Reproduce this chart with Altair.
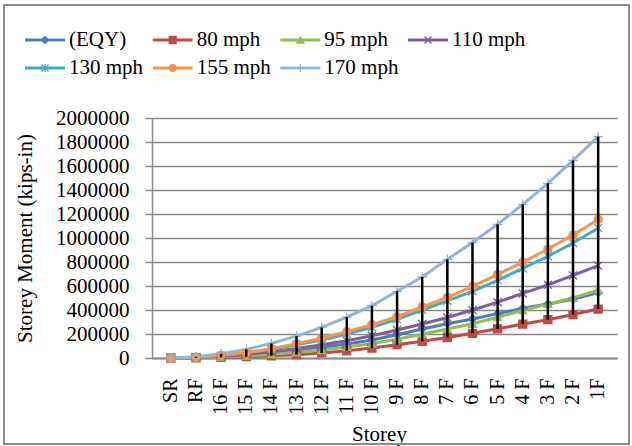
import altair as alt
import pandas as pd

storeys = ["SR", "RF", "16 F", "15 F", "14 F", "13 F", "12 F", "11 F", "10 F",
           "9 F", "8 F", "7 F", "6 F", "5 F", "4 F", "3 F", "2 F", "1F"]
series = ["(EQY)", "80 mph", "95 mph", "110 mph", "130 mph", "155 mph", "170 mph"]
colors = ["#4A7EBB", "#BE4B48", "#98B954", "#7D60A0", "#46AAC5", "#F79646", "#95B3D7"]
shapes = ["diamond", "square", "triangle-up",
          "M-1,-1L1,1M-1,1L1,-1",
          "M-1,-1L1,1M-1,1L1,-1M0,-1.2L0,1.2",
          "circle",
          "M-1.2,0L1.2,0M0,-1.2L0,1.2"]

eqy = [0, 3000, 10000, 22000, 40000, 65000, 90000, 117000, 150000, 194000,
       242000, 286000, 325000, 370000, 414000, 450000, 490000, 545000]
mph80 = [0, 2000, 5000, 11000, 18000, 28000, 42000, 60000, 83000, 111000,
         139000, 170000, 206000, 243000, 283000, 319000, 362000, 408000]
mph95 = [0, 2000, 8000, 17000, 30000, 47000, 66000, 92000, 120000, 156000,
         198000, 242000, 285000, 340000, 398000, 450000, 500000, 566000]
mph110 = [0, 4000, 14000, 30000, 52000, 80000, 111000, 143000, 185000, 234000,
          283000, 338000, 400000, 465000, 538000, 610000, 688000, 770000]
mph130 = [0, 5000, 20000, 42000, 72000, 110000, 150000, 200000, 255000, 322000,
          400000, 476000, 556000, 647000, 746000, 847000, 958000, 1083000]
mph155 = [0, 6000, 22000, 45000, 78000, 120000, 165000, 220000, 278000, 345000,
          425000, 506000, 597000, 697000, 799000, 908000, 1025000, 1155000]
mph170 = [0, 10000, 35000, 72000, 122000, 182000, 255000, 340000, 436000, 556000,
          675000, 822000, 962000, 1114000, 1280000, 1456000, 1647000, 1845000]

all_vals = [eqy, mph80, mph95, mph110, mph130, mph155, mph170]
rows = []
for s, vals in zip(series, all_vals):
    for st, v in zip(storeys, vals):
        rows.append({"storey": st, "series": s, "value": v})
df = pd.DataFrame(rows)

FONT = "Liberation Serif"

color = alt.Color("series:N", scale=alt.Scale(domain=series, range=colors), legend=None)
shape = alt.Shape("series:N", scale=alt.Scale(domain=series, range=shapes), legend=None)

x_axis = alt.Axis(title="Storey", labelAngle=270, ticks=False, labelPadding=20,
                  domainColor="#8a8a8a", domainWidth=2, grid=False,
                  labelFont=FONT, labelFontSize=20, labelColor="black",
                  titleFont=FONT, titleFontSize=21, titleFontWeight="normal",
                  titleColor="black", titleX=227, titleY=82, titleBaseline="alphabetic",
                  titleAlign="center")
xenc = alt.X("storey:N", sort=storeys, scale=alt.Scale(domain=storeys, padding=0.5), axis=x_axis)

y_scale = alt.Scale(domain=[0, 2000000], nice=False)
y_axis = alt.Axis(title="Storey Moment (kips-in)", values=list(range(0, 2000001, 200000)),
                  format="d", tickSize=7, tickColor="#8a8a8a", tickWidth=1.5,
                  domainColor="#8a8a8a", domainWidth=1.5, labelPadding=16,
                  gridColor="#8a8a8a", gridWidth=1.4,
                  labelFont=FONT, labelFontSize=21, labelColor="black",
                  titleFont=FONT, titleFontSize=21, titleFontWeight="normal",
                  titleColor="black", titleAngle=270, titleX=-127, titleY=120,
                  titleAlign="center", titleBaseline="middle")

base = alt.Chart(df)
lines = base.mark_line(strokeWidth=3).encode(
    x=xenc, y=alt.Y("value:Q", scale=y_scale, axis=y_axis), color=color, detail="series:N")
points = base.mark_point(filled=True, size=64, strokeWidth=1.3, opacity=1).encode(
    x=xenc, y=alt.Y("value:Q", scale=y_scale, axis=y_axis), color=color, shape=shape,
    stroke=alt.Stroke("series:N", scale=alt.Scale(domain=series, range=colors), legend=None))
hilo = base.mark_rule(color="black", strokeWidth=2.5).encode(
    x=xenc, y=alt.Y("min(value):Q", scale=y_scale, axis=y_axis), y2=alt.Y2("max(value)"))

main = alt.layer(lines, points, hilo)

# legend built from the series list
leg = pd.DataFrame({"series": series,
                    "col": [i % 4 for i in range(len(series))],
                    "row": [i // 4 for i in range(len(series))]})
lx = alt.X("col:Q", scale=alt.Scale(domain=[0, 3], range=[-107, 276]), axis=None)
lx2 = alt.X2("col:Q")
ly = alt.Y("row:Q", scale=alt.Scale(domain=[0, 1], range=[-78, -50]), axis=None)
lbase = alt.Chart(leg)
leg_lines = lbase.mark_rule(strokeWidth=3, xOffset=-20, x2Offset=20).encode(
    x=lx, x2=lx2, y=ly, color=color)
leg_pts = lbase.mark_point(filled=True, size=49, strokeWidth=1.3, opacity=1).encode(
    x=lx, y=ly, color=color, shape=shape,
    stroke=alt.Stroke("series:N", scale=alt.Scale(domain=series, range=colors), legend=None))
leg_text = lbase.mark_text(align="left", baseline="middle", dx=24, font=FONT,
                           fontSize=21, color="black").encode(x=lx, y=ly, text="series:N")
border = alt.Chart(pd.DataFrame({"a": [0]})).mark_rect(
    filled=False, stroke="#8c8c8c", strokeWidth=2).encode(
    x=alt.value(-148), x2=alt.value(477), y=alt.value(-113), y2=alt.value(326))

legend = alt.layer(border, leg_lines, leg_pts, leg_text)

chart = alt.layer(main, legend).resolve_scale(
    x="independent", y="independent"
).properties(
    width=465, height=240,
    padding={"left": 152, "top": 118, "right": 15, "bottom": 88},
    autosize=alt.AutoSizeParams(type="none"),
    background="white"
).configure_view(stroke=None)

chart.save("out.html", embed_options={"renderer": "svg", "actions": False})
